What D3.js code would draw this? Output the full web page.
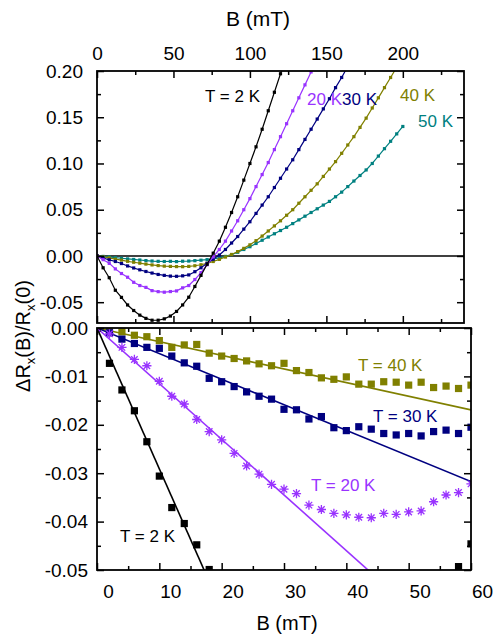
<!DOCTYPE html>
<html>
<head>
<meta charset="utf-8">
<script src="https://cdn.jsdelivr.net/npm/d3@7"></script>
<style>
  body { margin: 0; background: #fff; }
  svg text { font-family: "Liberation Sans", Arial, sans-serif; }
</style>
</head>
<body>
<svg id="chart" width="500" height="635"></svg>
<script>
// ---- upper panel: dRx/Rx(0) vs B, sweeps sampled every topStep mT ----
const topStep = 4;
const top2K = [0, -0.0128, -0.0235, -0.0371, -0.0448, -0.053, -0.059, -0.064, -0.0675, -0.0695,
  -0.0695, -0.068, -0.065, -0.060, -0.053, -0.0446, -0.033, -0.021, -0.009, 0.003,
  0.016, 0.031, 0.047, 0.064, 0.082, 0.100, 0.118, 0.137, 0.157, 0.177, 0.197, 0.218];
const top20K = [0, -0.004, -0.008, -0.014, -0.019, -0.023, -0.0285, -0.032, -0.034, -0.0375,
  -0.0386, -0.0392, -0.0385, -0.0378, -0.0345, -0.032, -0.0255, -0.018, -0.0095, -0.001,
  0.007, 0.016, 0.027, 0.038, 0.050, 0.062, 0.075, 0.088, 0.101, 0.115, 0.129, 0.143,
  0.157, 0.171, 0.185, 0.199, 0.214];
const top30K = [0, -0.0022, -0.0042, -0.006, -0.0082, -0.0108, -0.013, -0.015, -0.0168, -0.0185,
  -0.020, -0.021, -0.0218, -0.022, -0.0215, -0.0205, -0.017, -0.0128, -0.008, -0.0035,
  0.001, 0.007, 0.014, 0.021, 0.029, 0.037, 0.046, 0.055, 0.064, 0.074, 0.084, 0.094,
  0.104, 0.115, 0.126, 0.137, 0.148, 0.159, 0.170, 0.182, 0.193, 0.205];
const top40K = [0, -0.001, -0.002, -0.0035, -0.0045, -0.0058, -0.0068, -0.0078, -0.0088, -0.0097,
  -0.0104, -0.011, -0.0113, -0.0115, -0.0116, -0.0113, -0.0106, -0.0095, -0.008, -0.006,
  -0.0037, -0.0012, 0.0016, 0.0047, 0.0082, 0.012, 0.0165, 0.0215, 0.027, 0.0325, 0.038,
  0.044, 0.050, 0.057, 0.064, 0.071, 0.078, 0.086, 0.094, 0.102, 0.111, 0.120, 0.129,
  0.139, 0.149, 0.160, 0.171, 0.182, 0.193, 0.204];
const top50K = [0, -0.0005, -0.001, -0.0018, -0.0025, -0.0032, -0.0038, -0.0044, -0.005, -0.0055,
  -0.0058, -0.006, -0.0058, -0.0061, -0.0057, -0.0055, -0.0051, -0.0046, -0.004, -0.0031,
  -0.002, -0.0005, 0.0015, 0.004, 0.007, 0.010, 0.0135, 0.017, 0.0205, 0.024, 0.0275,
  0.031, 0.035, 0.039, 0.043, 0.047, 0.051, 0.055, 0.059, 0.064, 0.069, 0.075, 0.081,
  0.087, 0.093, 0.100, 0.108, 0.116, 0.124, 0.132, 0.140];

// ---- lower panel: low-field data (points) and linear fits ----
const lowB = [0, 2, 4, 6, 8, 10, 12, 14, 16, 18, 20, 22, 24, 26, 28, 30,
  32, 34, 36, 38, 40, 42, 44, 46, 48, 50, 52, 54, 56, 58, 60];
const low2KB = [0, 2, 4, 6, 8, 10, 12, 14, 16, 18, 58, 60];
const low2K = [0, -0.0073, -0.0128, -0.0171, -0.0235, -0.0306, -0.0371, -0.0404, -0.0448, -0.0499, -0.0493, -0.0446];
const low20K = [0, -0.0012, -0.0040, -0.0065, -0.0078, -0.0110, -0.0141, -0.0157, -0.0189, -0.0214,
  -0.0231, -0.0259, -0.0285, -0.0302, -0.0323, -0.0333, -0.0342, -0.0366, -0.0375, -0.0383,
  -0.0386, -0.0391, -0.0392, -0.0383, -0.0385, -0.0380, -0.0378, -0.0359, -0.0345, -0.0340, -0.0322];
const low30K = [0, -0.0010, -0.0023, -0.0032, -0.0040, -0.0042, -0.0058, -0.0072, -0.0079, -0.0104,
  -0.0111, -0.0121, -0.0132, -0.0141, -0.0147, -0.0168, -0.0169, -0.0188, -0.0183, -0.0206,
  -0.0212, -0.0204, -0.0209, -0.0218, -0.0221, -0.0218, -0.0223, -0.0214, -0.0211, -0.0218, -0.0205];
const low40K = [0, 0, -0.0008, -0.0015, -0.0018, -0.0026, -0.0040, -0.0035, -0.0034, -0.0052,
  -0.0058, -0.0063, -0.0068, -0.0074, -0.0078, -0.0073, -0.0088, -0.0092, -0.0103, -0.0106,
  -0.0101, -0.0116, -0.0116, -0.0111, -0.0112, -0.0118, -0.0112, -0.0123, -0.0120, -0.0125, -0.0118];
// slopes of the straight-line fits, per mT
const fitSlopes = { k2: -0.00291, k20: -0.00115, k30: -0.000529, k40: -0.000282 };

const topXTicks = [0, 50, 100, 150, 200];
const topXMinor = [25, 75, 125, 175, 225];
const topYTicks = [-0.05, 0, 0.05, 0.1, 0.15, 0.2];
const topYMinor = [-0.025, 0.025, 0.075, 0.125, 0.175];
const lowXTicks = [0, 10, 20, 30, 40, 50, 60];
const lowXMinor = [5, 15, 25, 35, 45, 55];
const lowYTicks = [-0.05, -0.04, -0.03, -0.02, -0.01, 0];
const lowYMinor = [-0.045, -0.035, -0.025, -0.015, -0.005];

const col = { k2: '#000000', k20: '#9933ff', k30: '#000080', k40: '#808000', k50: '#008080' };

const svg = d3.select('#chart');
const topBox = { left: 97, right: 464, top: 71, bottom: 323 };
const lowBox = { left: 97, right: 471, top: 328, bottom: 570 };

const xTop = d3.scaleLinear().domain([0, 240]).range([topBox.left, topBox.right]);
const yTop = d3.scaleLinear().domain([-0.0725, 0.2]).range([topBox.bottom, topBox.top]);
const xLow = d3.scaleLinear().domain([0, 60]).range([lowBox.left, lowBox.right]);
const yLow = d3.scaleLinear().domain([-0.05, 0]).range([lowBox.bottom, lowBox.top]);

const defs = svg.append('defs');
[['clipTop', topBox], ['clipLow', lowBox]].forEach(([id, b]) => {
  defs.append('clipPath').attr('id', id).append('rect')
    .attr('x', b.left).attr('y', b.top)
    .attr('width', b.right - b.left).attr('height', b.bottom - b.top);
});

// inward ticks on all four sides, labels only where asked
function frameAxes(x, y, box, xt, xm, yt, ym, opt) {
  let g = svg.append('g');
  let sides = [
    [() => d3.axisLeft(y), `translate(${box.left},0)`, yt, ym, opt.left],
    [() => d3.axisRight(y), `translate(${box.right},0)`, yt, ym, null],
    [() => d3.axisTop(x), `translate(0,${box.top})`, xt, xm, opt.top],
    [() => d3.axisBottom(x), `translate(0,${box.bottom})`, xt, xm, opt.bottom],
  ];
  sides.forEach(([mk, tr, major, minor, lab]) => {
    let gm = g.append('g').attr('transform', tr)
      .call(mk().tickValues(major).tickSize(-7)
        .tickPadding(lab ? lab.pad : 0)
        .tickFormat(lab ? lab.fmt : ''));
    g.append('g').attr('transform', tr)
      .call(mk().tickValues(minor).tickSize(-4).tickFormat(''));
    if (lab && lab.dx) gm.selectAll('.tick text').attr('dx', lab.dx);
  });
  g.selectAll('.domain').remove();
  g.selectAll('.tick line').attr('stroke', '#000').attr('stroke-width', 1.5);
  g.selectAll('.tick text').attr('font-size', 19).attr('fill', '#000')
    .attr('font-family', '"Liberation Sans", Arial, sans-serif');
  svg.append('rect')
    .attr('x', box.left).attr('y', box.top)
    .attr('width', box.right - box.left).attr('height', box.bottom - box.top)
    .attr('fill', 'none').attr('stroke', '#000').attr('stroke-width', 1.8);
}

// ---------- upper panel ----------
const topLayer = svg.append('g').attr('clip-path', 'url(#clipTop)');
topLayer.append('line')
  .attr('x1', xTop(0)).attr('x2', xTop(240))
  .attr('y1', yTop(0)).attr('y2', yTop(0))
  .attr('stroke', '#000').attr('stroke-width', 1.5);

const topSeries = [
  { vals: top50K, c: col.k50 },
  { vals: top40K, c: col.k40 },
  { vals: top30K, c: col.k30 },
  { vals: top20K, c: col.k20 },
  { vals: top2K, c: col.k2 },
];
const topLine = d3.line().x(d => xTop(d[0])).y(d => yTop(d[1]));
topSeries.forEach(s => {
  let pts = s.vals.map((v, i) => [i * topStep, v]);
  topLayer.append('path').attr('d', topLine(pts))
    .attr('fill', 'none').attr('stroke', s.c).attr('stroke-width', 1.2);
  topLayer.selectAll(null).data(pts).enter().append('rect')
    .attr('x', d => xTop(d[0]) - 1.6).attr('y', d => yTop(d[1]) - 1.6)
    .attr('width', 3.2).attr('height', 3.2).attr('fill', s.c);
});

frameAxes(xTop, yTop, topBox, topXTicks, topXMinor, topYTicks, topYMinor, {
  left: { pad: 14, fmt: d => d.toFixed(2) },
  top: { pad: 11, fmt: d => String(d) },
});

// ---------- lower panel ----------
const lowLayer = svg.append('g').attr('clip-path', 'url(#clipLow)');
const fitLine = d3.line().x(d => xLow(d[0])).y(d => yLow(d[1]));
[['k40', col.k40], ['k30', col.k30], ['k20', col.k20], ['k2', col.k2]].forEach(([k, c]) => {
  lowLayer.append('path')
    .attr('d', fitLine([[0, 0], [60, fitSlopes[k] * 60]]))
    .attr('fill', 'none').attr('stroke', c).attr('stroke-width', 1.6);
});

function squares(bs, vs, c) {
  lowLayer.selectAll(null).data(bs.map((b, i) => [b, vs[i]])).enter().append('rect')
    .attr('x', d => xLow(d[0]) - 3.6).attr('y', d => yLow(d[1]) - 3.6)
    .attr('width', 7.2).attr('height', 7.2).attr('fill', c);
}
squares(lowB, low40K, col.k40);
squares(lowB, low30K, col.k30);
squares(low2KB, low2K, col.k2);

const starPath = (() => {
  let r = 4.6, d = r * Math.SQRT1_2;
  return `M${-r},0L${r},0M0,${-r}L0,${r}M${-d},${-d}L${d},${d}M${-d},${d}L${d},${-d}`;
})();
lowLayer.selectAll(null).data(lowB.map((b, i) => [b, low20K[i]])).enter().append('path')
  .attr('transform', d => `translate(${xLow(d[0])},${yLow(d[1])})`)
  .attr('d', starPath).attr('fill', 'none')
  .attr('stroke', col.k20).attr('stroke-width', 1.3);

frameAxes(xLow, yLow, lowBox, lowXTicks, lowXMinor, lowYTicks, lowYMinor, {
  left: { pad: 9, fmt: d => d.toFixed(2) },
  bottom: { pad: 15, fmt: d => String(d), dx: 11 },
});

// ---------- text ----------
const font = '"Liberation Sans", Arial, sans-serif';
function label(x, y, txt, c, size) {
  svg.append('text').attr('x', x).attr('y', y).attr('fill', c)
    .attr('font-size', size).attr('font-family', font).text(txt);
}
label(205, 102, 'T = 2 K', col.k2, 17);
label(307, 105, '20 K', col.k20, 17);
label(342, 105, '30 K', col.k30, 17);
label(400, 101, '40 K', col.k40, 17);
label(418, 127, '50 K', col.k50, 17);
label(358, 371, 'T = 40 K', col.k40, 17);
label(373, 422, 'T = 30 K', col.k30, 17);
label(311, 491, 'T = 20 K', col.k20, 17);
label(120, 542, 'T = 2 K', col.k2, 17);

svg.append('text').attr('x', 258).attr('y', 26).attr('text-anchor', 'middle')
  .attr('font-size', 21).attr('font-family', font).text('B (mT)');
svg.append('text').attr('x', 287).attr('y', 630).attr('text-anchor', 'middle')
  .attr('font-size', 20).attr('font-family', font).text('B (mT)');

const yTitle = svg.append('text')
  .attr('transform', 'translate(30,336) rotate(-90)')
  .attr('text-anchor', 'middle').attr('font-size', 20).attr('font-family', font);
yTitle.append('tspan').text('\u0394R');
yTitle.append('tspan').attr('font-size', 13).attr('dy', 5).text('x');
yTitle.append('tspan').attr('dy', -5).text('(B)/R');
yTitle.append('tspan').attr('font-size', 13).attr('dy', 5).text('x');
yTitle.append('tspan').attr('dy', -5).text('(0)');
</script>
</body>
</html>
